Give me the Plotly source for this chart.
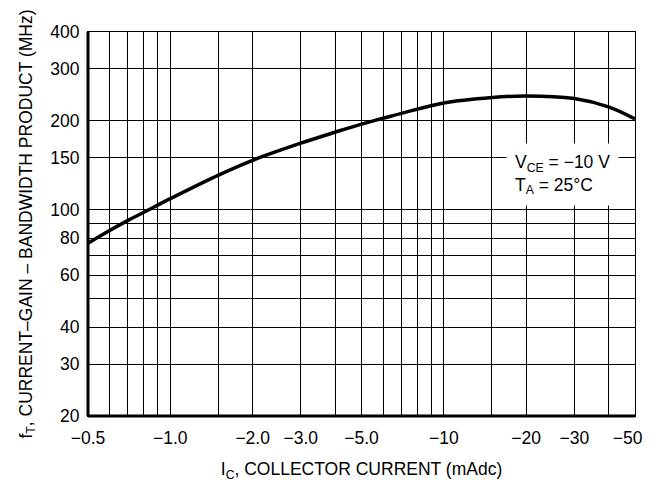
import plotly.graph_objects as go

# Data (|Ic| in mA, fT in MHz)
ic_ma = [0.5, 0.6, 0.7, 0.8, 1.0, 1.5, 2.0, 3.0, 4.0, 5.0, 6.0, 7.0, 10, 15, 20, 30, 40, 50]
ft_mhz = [77, 85, 92, 98, 109, 131, 147, 168, 183, 195, 204, 212, 230, 240, 243, 238, 223, 203]

x_tickvals = [0.5, 1, 2, 3, 5, 10, 20, 30, 50]
x_ticktext = ["\u22120.5", "\u22121.0", "\u22122.0", "\u22123.0", "\u22125.0",
              "\u221210", "\u221220", "\u221230", "\u221250\u00a0\u00a0\u00a0"]
x_minor = [0.6, 0.7, 0.8, 0.9, 1.5, 4, 6, 7, 8, 9, 15, 40]

y_tickvals = [20, 30, 40, 60, 80, 100, 150, 200, 300, 400]
y_ticktext = ["20", "30", "40", "60", "80", "100", "150", "200", "300", "400"]
y_minor = [50, 70, 90]

FONT = "Liberation Sans, Arial, Helvetica, sans-serif"
FS = 17.5

fig = go.Figure()
fig.add_trace(go.Scatter(
    x=ic_ma, y=ft_mhz, mode="lines",
    line=dict(color="black", width=3.5, shape="spline", smoothing=1.0),
    hoverinfo="skip", showlegend=False,
))

axis_common = dict(
    type="log", automargin=False,
    showgrid=True, gridcolor="black", gridwidth=1,
    showline=True, linecolor="black", linewidth=1, mirror=True,
    ticks="", zeroline=False,
    tickfont=dict(family=FONT, size=FS, color="black"),
)

fig.update_xaxes(
    **axis_common,
    range=[-0.30103, 1.69897],
    tickmode="array", tickvals=x_tickvals, ticktext=x_ticktext,
    minor=dict(tickmode="array", tickvals=x_minor, showgrid=True,
               gridcolor="black", gridwidth=1, ticks=""),
    title=dict(text="I<sub>C</sub>, COLLECTOR CURRENT (mAdc)",
               font=dict(family=FONT, size=FS, color="black"), standoff=17),
    ticklabelstandoff=6,
)
fig.update_yaxes(
    **axis_common,
    range=[1.30103, 2.60206],
    tickmode="array", tickvals=y_tickvals, ticktext=y_ticktext,
    minor=dict(tickmode="array", tickvals=y_minor, showgrid=True,
               gridcolor="black", gridwidth=1, ticks=""),
    title=dict(text="f<sub>T</sub>, CURRENT\u2013GAIN \u2013 BANDWIDTH PRODUCT (MHz)",
               font=dict(family=FONT, size=FS, color="black"), standoff=13),
    ticklabelstandoff=4,
)

# thick left and bottom frame lines
fig.add_shape(type="line", xref="paper", yref="paper", x0=0, x1=0, y0=0, y1=1,
              line=dict(color="black", width=3))
fig.add_shape(type="line", xref="paper", yref="paper", x0=0, x1=1, y0=0, y1=0,
              line=dict(color="black", width=3))

fig.add_annotation(
    xref="paper", yref="paper", x=0.764, y=0.711,
    xanchor="left", yanchor="top", align="left",
    text="V<sub>CE</sub> = \u221210 V<br>T<sub>A</sub> = 25\u00b0C",
    showarrow=False, bgcolor="white", borderpad=8,
    font=dict(family=FONT, size=FS, color="black"),
)

# page body has an 8px margin, so the figure is drawn 8px smaller and offset
fig.update_layout(
    width=651, height=474,
    margin=dict(l=80, r=24, t=24, b=66),
    paper_bgcolor="white", plot_bgcolor="white",
    font=dict(family=FONT, size=FS, color="black"),
)

fig.write_html("out.html")
